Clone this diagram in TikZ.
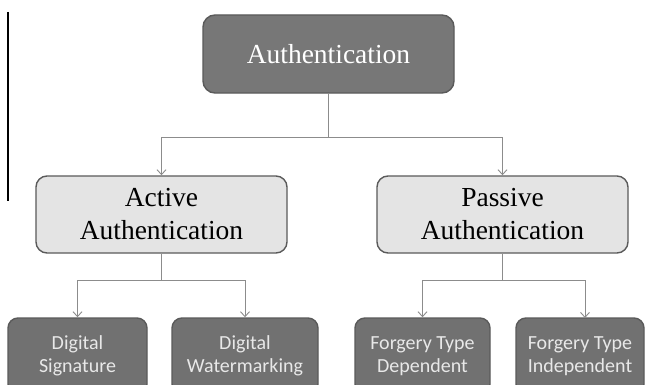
\documentclass[tikz,border=0pt]{standalone}
\usepackage{fontspec}
\setmainfont{Liberation Serif}
\newfontfamily\calib{Carlito}
\usetikzlibrary{arrows.meta}
\definecolor{darkfill}{HTML}{777777}
\definecolor{boxedge}{HTML}{5A5A5A}
\definecolor{lightfill}{HTML}{E4E4E4}
\definecolor{botfill}{HTML}{717171}
\definecolor{bottext}{HTML}{E8E8E8}
\definecolor{conn}{HTML}{8C8C8C}
\begin{document}
\begin{tikzpicture}[x=1pt,y=1pt,
  topbox/.style={draw=boxedge, fill=darkfill, rounded corners=12pt, line width=1.4pt,
    minimum width=251pt, minimum height=78pt, inner sep=0pt, text=white,
    font=\fontsize{27.5}{33}\selectfont},
  midbox/.style={draw=boxedge, fill=lightfill, rounded corners=11pt, line width=1.4pt,
    minimum width=251pt, minimum height=77pt, inner sep=0pt, text=black, align=center,
    font=\fontsize{27.5}{33}\selectfont},
  botbox/.style={draw=boxedge, fill=botfill, rounded corners=10pt, line width=1.4pt,
    minimum height=76pt, inner sep=0pt, text=bottext, align=center,
    font=\calib\fontsize{20}{23.5}\selectfont},
  conline/.style={draw=conn, line width=0.9pt},
  conarrow/.style={conline, -{Straight Barb[length=5pt,width=9pt]}}
]
\useasboundingbox (0,0) rectangle (646,384);
\fill[white] (0,0) rectangle (646,384);
% left black rule
\coordinate (ruleA) at (8,372);
\coordinate (ruleB) at (8,183);
\draw[line width=2pt] (ruleA) -- (ruleB);

\node[topbox] (auth) at (328.5,330) {Authentication};
\node[midbox] (active) at (161.5,169.5) {Active\\Authentication};
\node[midbox] (passive) at (502.5,169.5) {Passive\\Authentication};

\begin{scope}
\clip (0,0) rectangle (646,384);
\node[botbox, minimum width=139pt] (sig) at (77.5,28) {Digital\\Signature};
\node[botbox, minimum width=146pt] (wm) at (245,28) {Digital\\Watermarking};
\node[botbox, minimum width=135pt] (dep) at (422.5,28) {Forgery Type\\Dependent};
\node[botbox, minimum width=128pt] (indep) at (580,28) {Forgery Type\\Independent};
\end{scope}

% connectors from top
\coordinate (j0) at (328.5,247);
\draw[conline] (auth.south) -- (j0);
\draw[conarrow] (j0) -| (active.north);
\draw[conarrow] (j0) -| (passive.north);

% connectors from active
\coordinate (j1) at (161.5,104);
\draw[conline] (active.south) -- (j1);
\draw[conarrow] (j1) -| (sig.north);
\draw[conarrow] (j1) -| (wm.north);

% connectors from passive
\coordinate (j2) at (502.5,104);
\coordinate (indepTop) at (585,66);
\draw[conline] (passive.south) -- (j2);
\draw[conarrow] (j2) -| (dep.north);
\draw[conarrow] (j2) -| (indepTop);
\end{tikzpicture}
\end{document}
